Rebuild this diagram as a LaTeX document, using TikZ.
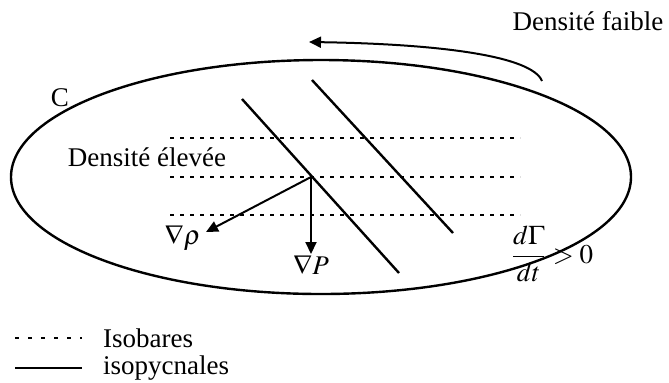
\documentclass[tikz,border=0pt]{standalone}
\usepackage{mathptmx}
\usepackage{fontspec}
\setmainfont{Liberation Serif}
\usetikzlibrary{arrows.meta, positioning}

\begin{document}
\begin{tikzpicture}[
        x=0.5pt, y=-0.5pt,
        font=\fontsize{13.5}{15}\selectfont,
        contour/.style={line width=1.2pt},
        isobar/.style={line width=1pt, dash pattern=on 2pt off 3pt},
        isopycn/.style={line width=1.2pt},
        arrow/.style={-{Triangle[length=6pt, width=5.5pt]}, line width=1pt}
    ]
        \useasboundingbox (0,0) rectangle (669,382);

        % the circuit C
        \draw[contour] (321,177) ellipse [x radius=310, y radius=117];
        \node (C) at (60,98) {C};

        % isobares and isopycnales
        \foreach \y in {138,177,215}
            \draw[isobar] (170,\y) -- (520,\y);
        \draw[isopycn] (242,99) -- (399,273);
        \draw[isopycn] (312,80) -- (453,233);

        \node (dense) at (147,157) {Densit\'e \'elev\'ee};
        \node (light) at (588,21) {Densit\'e faible};

        % gradients
        \coordinate (cross) at (311,177);
        \coordinate (rho) at (206,232);
        \coordinate (gp) at (311,254);
        \draw[arrow] (cross) -- (rho);
        \draw[arrow] (cross) -- (gp);
        \node[left=-1pt of rho, yshift=-3pt] (rholbl) {$\nabla\rho$};
        \node[below=-3pt of gp] (plbl) {$\nabla P$};

        % circulation
        \coordinate (circ0) at (542,81);
        \coordinate (circ1) at (309,42);
        \draw[arrow] (circ0) .. controls (532,56) and (440,44) .. (circ1);
        \node (dgamma) at (552,254) {$\displaystyle\frac{d\Gamma}{dt} > 0$};

        % legend
        \coordinate (leg0) at (15,338);
        \coordinate (leg1) at (82,338);
        \coordinate (leg2) at (15,368);
        \coordinate (leg3) at (82,368);
        \draw[isobar, dash pattern=on 2pt off 4.5pt] (leg0) -- (leg1);
        \draw[isopycn] (leg2) -- (leg3);
        \node[right=7pt of leg1] (isob) {Isobares};
        \node[right=7pt of leg3] (isop) {isopycnales};
    \end{tikzpicture}
\end{document}
